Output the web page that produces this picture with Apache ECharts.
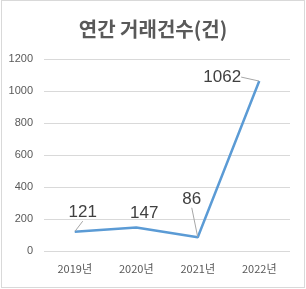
<!DOCTYPE html>
<html><head><meta charset="utf-8">
<script src="https://cdn.jsdelivr.net/npm/echarts@6/dist/echarts.min.js"></script>
<style>
html,body{margin:0;padding:0;background:#fff;}
#c{position:absolute;left:0;top:0;width:306px;height:289px;}
#b{position:absolute;left:1px;top:0;width:304px;height:288px;border:1px solid #d9d9d9;box-sizing:border-box;pointer-events:none;}
</style></head>
<body>
<div id="c"></div><div id="b"></div>
<script>
var title = '연간 거래건수(건)';
var categories = ['2019년', '2020년', '2021년', '2022년'];
var values = [121, 147, 86, 1062];
var yTicks = [0, 200, 400, 600, 800, 1000, 1200];

var labelOffsets = [[8, -5], [8, 0], [-6, -24], [-37, 10]];
var showLeader = [true, false, true, true];

var seriesData = values.map(function (v, i) {
  return {value: v, labelLine: {show: showLeader[i]}};
});

var chart = echarts.init(document.getElementById('c'), null, {renderer: 'canvas'});
chart.setOption({
  animation: false,
  title: {
    text: title, left: 'center', top: 14,
    textStyle: {fontFamily: 'Noto Sans CJK KR', fontSize: 20, fontWeight: 'bold', color: '#595959'}
  },
  grid: {left: 44, right: 16, top: 59, bottom: 38, containLabel: false},
  xAxis: {
    type: 'category', data: categories, boundaryGap: true,
    axisLine: {show: false}, axisTick: {show: false},
    axisLabel: {color: '#595959', fontSize: 11, fontFamily: 'Noto Sans CJK KR', margin: 12}
  },
  yAxis: {
    type: 'value', min: yTicks[0], max: yTicks[yTicks.length - 1], interval: 200,
    axisLine: {show: false}, axisTick: {show: false},
    splitLine: {lineStyle: {color: '#d9d9d9', width: 1}},
    axisLabel: {color: '#595959', fontSize: 11, fontFamily: 'Liberation Sans', margin: 11,
      formatter: function (v) { return String(v); }}
  },
  series: [{
    type: 'line', data: seriesData, symbol: 'circle', symbolSize: 1, showSymbol: true,
    itemStyle: {color: 'rgba(0,0,0,0)', borderWidth: 0},
    lineStyle: {color: '#5b9bd5', width: 2.5},
    label: {show: true, position: 'top', distance: 5, fontSize: 17, color: '#404040', fontFamily: 'Liberation Sans'},
    labelLine: {show: true, lineStyle: {color: '#a6a6a6', width: 1}},
    labelLayout: function (p) {
      var o = labelOffsets[p.dataIndex];
      return {dx: o[0], dy: o[1]};
    }
  }]
});
</script>
</body></html>
